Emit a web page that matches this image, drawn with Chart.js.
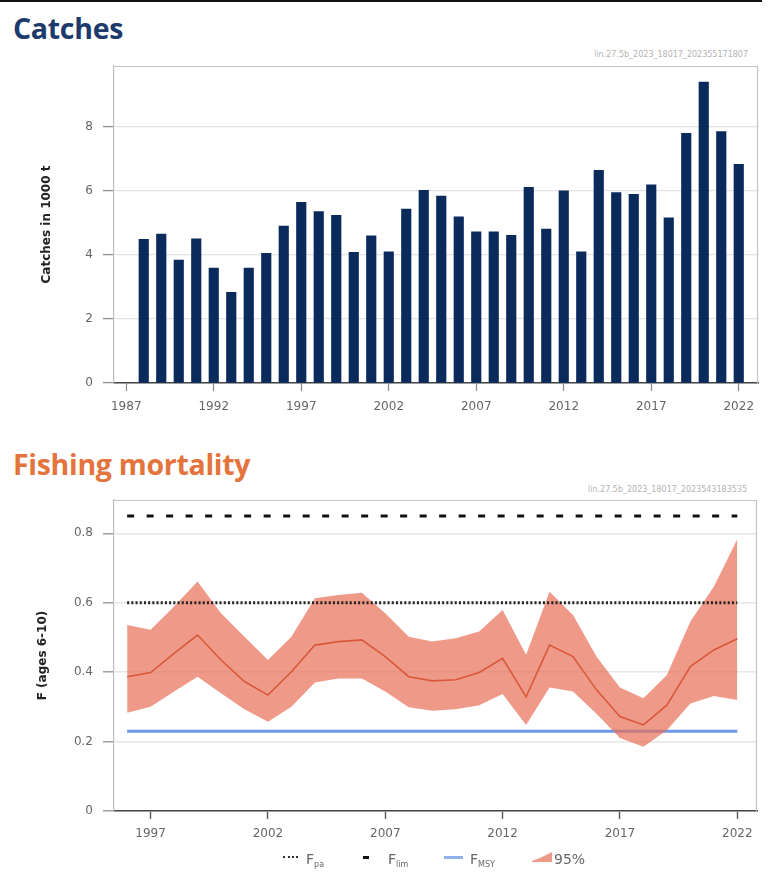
<!DOCTYPE html>
<html><head><meta charset="utf-8">
<script src="https://cdn.jsdelivr.net/npm/chart.js@4.4.0/dist/chart.umd.min.js"></script>
<style>
html,body{margin:0;padding:0;background:#fff;width:771px;height:874px;overflow:hidden;font-family:"DejaVu Sans",sans-serif}
#topline{position:absolute;left:0;top:0;width:762px;height:2px;background:#111}
.title{position:absolute;left:13px;font-family:"Open Sans",sans-serif;font-weight:700;font-size:28.5px;line-height:34px;white-space:nowrap;letter-spacing:-0.3px}
.wm{position:absolute;right:23px;font-size:8px;color:#b3b3b3;white-space:nowrap}
canvas{position:absolute;left:0}
.lg{position:absolute;font-size:14px;color:#666;line-height:16px;white-space:nowrap}
.lg sub{font-size:8px;vertical-align:-3px}
</style></head>
<body>
<div id="topline"></div>
<div class="title" style="top:11px;color:#1c3a6b">Catches</div>
<div class="wm" style="top:50px">lin.27.5b_2023_18017_202355171807</div>
<canvas id="c1" width="771" height="430" style="top:0"></canvas>
<div class="title" style="top:447px;color:#e4733c">Fishing mortality</div>
<div class="wm" style="top:485px;right:24px">lin.27.5b_2023_18017_2023543183535</div>
<canvas id="c2" width="771" height="444" style="top:430px"></canvas>

<div style="position:absolute;left:283px;top:856px;width:15px;border-top:2.5px dotted #333"></div>
<div class="lg" style="left:306px;top:851px">F<sub>pa</sub></div>
<div style="position:absolute;left:363px;top:856px;width:6px;height:3px;background:#111"></div>
<div class="lg" style="left:388px;top:851px">F<sub>lim</sub></div>
<div style="position:absolute;left:444px;top:856px;width:19px;height:2.5px;background:#8fb2ee"></div>
<div class="lg" style="left:470px;top:851px">F<sub>MSY</sub></div>
<svg style="position:absolute;left:532px;top:851px" width="21" height="12"><polygon points="0,10 8,7 20,1 20,11 0,11" fill="#ee9a88"/></svg>
<div class="lg" style="left:554px;top:851px">95%</div>

<script>
// ---- Catches data ----
const catchYears = [1988,1989,1990,1991,1992,1993,1994,1995,1996,1997,1998,1999,2000,2001,2002,2003,2004,2005,2006,2007,2008,2009,2010,2011,2012,2013,2014,2015,2016,2017,2018,2019,2020,2021,2022];
const catchValues = [4.49,4.65,3.84,4.50,3.59,2.83,3.59,4.05,4.90,5.64,5.35,5.24,4.08,4.60,4.10,5.43,6.02,5.84,5.19,4.72,4.72,4.61,6.11,4.81,6.00,4.10,6.64,5.95,5.89,6.19,5.16,7.80,9.40,7.85,6.83];
const catchXTicks = [1987,1992,1997,2002,2007,2012,2017,2022];
const catchYTicks = [0,2,4,6,8];

// ---- Fishing mortality data ----
const fYears = [1996,1997,1998,1999,2000,2001,2002,2003,2004,2005,2006,2007,2008,2009,2010,2011,2012,2013,2014,2015,2016,2017,2018,2019,2020,2021,2022];
const fValues = [0.387,0.399,0.454,0.507,0.435,0.373,0.334,0.401,0.478,0.488,0.493,0.445,0.387,0.375,0.378,0.399,0.440,0.329,0.478,0.445,0.349,0.272,0.248,0.305,0.416,0.464,0.496];
const fUpper = [0.536,0.522,0.589,0.661,0.570,0.502,0.435,0.502,0.613,0.622,0.629,0.570,0.502,0.488,0.498,0.517,0.579,0.450,0.632,0.565,0.445,0.356,0.325,0.392,0.546,0.646,0.783];
const fLower = [0.283,0.300,0.344,0.387,0.339,0.293,0.257,0.300,0.370,0.382,0.382,0.344,0.299,0.289,0.293,0.305,0.337,0.248,0.356,0.344,0.280,0.210,0.185,0.233,0.310,0.331,0.320];
const Fpa = 0.6;
const Flim = 0.85;
const Fmsy = 0.23;
const fXTicks = [1997,2002,2007,2012,2017,2022];
const fYTicks = [0,0.2,0.4,0.6,0.8];

const boxPlugin = {
  id: 'box',
  beforeDatasetsDraw(chart) {
    const {ctx, chartArea: a} = chart;
    ctx.save();
    ctx.strokeStyle = '#c4c4c4';
    ctx.lineWidth = 1.2;
    ctx.beginPath();
    ctx.moveTo(a.left, a.top + 0.5);
    ctx.lineTo(a.right - 0.5, a.top + 0.5);
    ctx.lineTo(a.right - 0.5, a.bottom);
    ctx.stroke();
    ctx.restore();
  }
};

const tickFont = {family: '"DejaVu Sans", sans-serif', size: 12};
const titleFont = {family: '"DejaVu Sans", sans-serif', size: 12, weight: 'bold'};

new Chart(document.getElementById('c1'), {
  type: 'bar',
  data: {
    datasets: [{
      data: catchYears.map((y, i) => ({x: y, y: catchValues[i]})),
      backgroundColor: '#0b2a5c',
      barThickness: 9.5
    }]
  },
  options: {
    responsive: false, animation: false, events: [],
    layout: {padding: {left: 36, top: 66, right: 13, bottom: 7}},
    plugins: {legend: {display: false}, tooltip: {enabled: false}},
    scales: {
      x: {
        type: 'linear', min: 1986.3, max: 2023.1, offset: false,
        afterBuildTicks: s => { s.ticks = catchXTicks.map(v => ({value: v})); },
        afterFit: s => { s.height = 40; },
        grid: {drawOnChartArea: false, offset: false, tickLength: 8, tickColor: '#888', tickWidth: 1.2},
        border: {color: '#444', width: 1.5},
        ticks: {color: '#666', font: tickFont, padding: 9, maxRotation: 0, callback: v => String(v)}
      },
      y: {
        min: 0, max: 9.9,
        afterBuildTicks: s => { s.ticks = catchYTicks.map(v => ({value: v})); },
        afterFit: s => { s.width = 78; },
        grid: {color: '#e3e3e3', lineWidth: 1.2, tickLength: 11, tickColor: '#888', tickWidth: 1.2},
        border: {color: '#bdbdbd', width: 1.2},
        ticks: {color: '#666', font: tickFont, padding: 10},
        title: {display: true, text: 'Catches in 1000 t', font: titleFont, color: '#222', padding: 4}
      }
    }
  },
  plugins: [boxPlugin]
});

const pts = (ys) => fYears.map((y, i) => ({x: y, y: ys[i]}));
const hline = (v) => [{x: fYears[0], y: v}, {x: fYears[fYears.length - 1], y: v}];

new Chart(document.getElementById('c2'), {
  type: 'line',
  data: {
    datasets: [
      {data: pts(fUpper), borderWidth: 0, pointRadius: 0, fill: '+1', backgroundColor: 'rgba(232,110,85,0.7)', order: 5, tension: 0},
      {data: pts(fLower), borderWidth: 0, pointRadius: 0, fill: false, order: 6, tension: 0},
      {data: pts(fValues), borderColor: '#d9583a', borderWidth: 1.6, pointRadius: 0, fill: false, order: 1, tension: 0},
      {data: hline(Fpa), borderColor: '#222', borderWidth: 2.8, borderDash: [2, 2.2], pointRadius: 0, fill: false, order: 2},
      {data: hline(Flim), borderColor: '#111', borderWidth: 3, borderDash: [7, 12.5], pointRadius: 0, fill: false, order: 3},
      {data: hline(Fmsy), borderColor: '#6f98e8', borderWidth: 3, pointRadius: 0, fill: false, order: 7}
    ]
  },
  options: {
    responsive: false, animation: false, events: [],
    layout: {padding: {left: 32, top: 70, right: 14, bottom: 23}},
    plugins: {legend: {display: false}, tooltip: {enabled: false}},
    scales: {
      x: {
        type: 'linear', min: 1995.44, max: 2022.84,
        afterBuildTicks: s => { s.ticks = fXTicks.map(v => ({value: v})); },
        afterFit: s => { s.height = 40; },
        grid: {drawOnChartArea: false, tickLength: 8, tickColor: '#555', tickWidth: 1.4},
        border: {color: '#444', width: 1.5},
        ticks: {color: '#666', font: tickFont, padding: 8, maxRotation: 0, callback: v => String(v)}
      },
      y: {
        min: 0, max: 0.896,
        afterBuildTicks: s => { s.ticks = fYTicks.map(v => ({value: v})); },
        afterFit: s => { s.width = 82; },
        grid: {color: '#e6e6e6', lineWidth: 1.6, tickLength: 11, tickColor: '#888', tickWidth: 1.2},
        border: {color: '#bdbdbd', width: 1.2},
        ticks: {color: '#666', font: tickFont, padding: 10},
        title: {display: true, text: 'F (ages 6-10)', font: titleFont, color: '#222', padding: 4}
      }
    }
  },
  plugins: [boxPlugin]
});
</script>
</body></html>
